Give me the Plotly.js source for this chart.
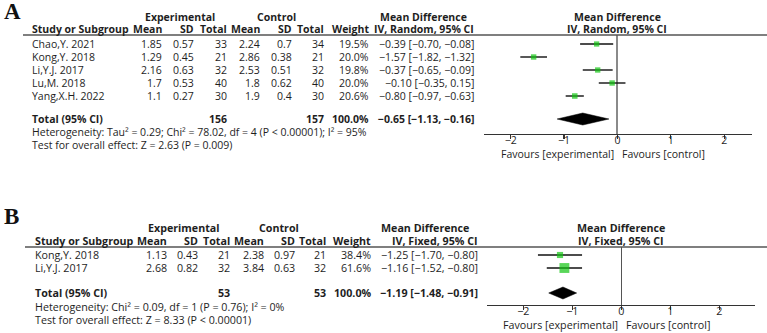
<!DOCTYPE html>
<html>
<head>
<meta charset="utf-8">
<script src="https://cdn.plot.ly/plotly-3.0.1.min.js"></script>
<style>html,body{margin:0;padding:0;background:#fff;}</style>
</head>
<body>
<div id="chart" style="width:767px;height:333px;"></div>
<script>
// ---- Panel A: IV, Random ----
const studiesA  = ['Chao,Y. 2021', 'Kong,Y. 2018', 'Li,Y.J. 2017', 'Lu,M. 2018', 'Yang,X.H. 2022'];
const expMeanA  = [1.85, 1.29, 2.16, 1.7, 1.1];
const expSdA    = [0.57, 0.45, 0.63, 0.53, 0.27];
const expNA     = [33, 21, 32, 40, 30];
const ctlMeanA  = [2.24, 2.86, 2.53, 1.8, 1.9];
const ctlSdA    = [0.7, 0.38, 0.51, 0.62, 0.4];
const ctlNA     = [34, 21, 32, 40, 30];
const weightA   = [19.5, 20.0, 19.8, 20.0, 20.6];
const totalWeightA = 100.0;
const mdA       = [-0.39, -1.57, -0.37, -0.10, -0.80];
const loA       = [-0.70, -1.82, -0.65, -0.35, -0.97];
const hiA       = [-0.08, -1.32, -0.09, 0.15, -0.63];
const pooledA   = [-0.65, -1.13, -0.16];   // estimate, lower, upper
const hetA      = 'Heterogeneity: Tau² = 0.29; Chi² = 78.02, df = 4 (P < 0.00001); I² = 95%';
const testA     = 'Test for overall effect: Z = 2.63 (P = 0.009)';

// ---- Panel B: IV, Fixed ----
const studiesB  = ['Kong,Y. 2018', 'Li,Y.J. 2017'];
const expMeanB  = [1.13, 2.68];
const expSdB    = [0.43, 0.82];
const expNB     = [21, 32];
const ctlMeanB  = [2.38, 3.84];
const ctlSdB    = [0.97, 0.63];
const ctlNB     = [21, 32];
const weightB   = [38.4, 61.6];
const totalWeightB = 100.0;
const mdB       = [-1.25, -1.16];
const loB       = [-1.70, -1.52];
const hiB       = [-0.80, -0.80];
const pooledB   = [-1.19, -1.48, -0.91];
const hetB      = 'Heterogeneity: Chi² = 0.09, df = 1 (P = 0.76); I² = 0%';
const testB     = 'Test for overall effect: Z = 8.33 (P < 0.00001)';

const tickVals  = [-2, -1, 0, 1, 2];
const tickText  = ['−2', '−1', '0', '1', '2'];

const W = 767, H = 333;
const FONT = '"Open Sans", "Noto Sans", sans-serif';
const TXT = '#1e1e1e';

const px = x => x / W;
const py = y => 1 - y / H;
const num = v => (v < 0 ? '−' : '') + Math.abs(v).toFixed(2);
const ci = (m, l, h) => num(m) + ' [' + num(l) + ', ' + num(h) + ']';
const sum = a => a.reduce((s, v) => s + v, 0);

const annotations = [];
const shapes = [];
const traces = [];

function panel(p) {
  const L = p.layout;
  const FS = L.fontSize;
  const font = bold => ({family: FONT, size: FS, color: TXT, weight: bold ? 'bold' : 'normal'});
  function label(text, x, y, anchor, bold) {
    annotations.push({
      text: text, xref: 'paper', yref: 'paper', x: px(x), y: py(y),
      xanchor: anchor, yanchor: 'middle', showarrow: false, borderpad: 0, font: font(bold)
    });
  }
  // panel letter
  annotations.push({
    text: '<b>' + p.letter + '</b>', xref: 'paper', yref: 'paper', x: px(L.letterX), y: py(L.letterY),
    xanchor: 'left', yanchor: 'middle', showarrow: false, borderpad: 0,
    font: {family: '"Liberation Serif", "DejaVu Serif", serif', size: 23, color: '#111'}
  });
  const c = L.cols;
  // group headers
  label('Experimental', c.expGroup, L.h1, 'center', true);
  label('Control', c.ctlGroup, L.h1, 'center', true);
  label('Mean Difference', c.mdHead, L.h1, 'center', true);
  label(p.method, c.md, L.h2, 'right', true);
  // column headers
  label('Study or Subgroup', c.study, L.h2, 'left', true);
  label('Mean', c.expMean, L.h2, 'right', true);
  label('SD', c.expSd, L.h2, 'right', true);
  label('Total', c.expN, L.h2, 'right', true);
  label('Mean', c.ctlMean, L.h2, 'right', true);
  label('SD', c.ctlSd, L.h2, 'right', true);
  label('Total', c.ctlN, L.h2, 'right', true);
  label('Weight', c.weight, L.h2, 'right', true);
  // header rule
  shapes.push({type: 'line', xref: 'paper', yref: 'paper', x0: px(L.ruleX0), x1: 1,
               y0: py(L.rule), y1: py(L.rule), line: {color: '#555', width: 1.3}});

  const rowY = p.studies.map((_, i) => L.row0 + i * L.rowStep);
  p.studies.forEach((s, i) => {
    const y = rowY[i];
    label(s, c.study, y, 'left');
    label(String(p.expMean[i]), c.expMean, y, 'right');
    label(String(p.expSd[i]), c.expSd, y, 'right');
    label(String(p.expN[i]), c.expN, y, 'right');
    label(String(p.ctlMean[i]), c.ctlMean, y, 'right');
    label(String(p.ctlSd[i]), c.ctlSd, y, 'right');
    label(String(p.ctlN[i]), c.ctlN, y, 'right');
    label(p.weight[i].toFixed(1) + '%', c.weight, y, 'right');
    label(ci(p.md[i], p.lo[i], p.hi[i]), c.md, y, 'right');
  });
  // totals row
  label('Total (95% CI)', c.study, L.total, 'left', true);
  label(String(sum(p.expN)), c.expN, L.total, 'right', true);
  label(String(sum(p.ctlN)), c.ctlN, L.total, 'right', true);
  label(p.totalWeight.toFixed(1) + '%', c.weight, L.total, 'right', true);
  label(ci(p.pooled[0], p.pooled[1], p.pooled[2]), c.md, L.total, 'right', true);
  label(p.het, c.study, L.het, 'left');
  label(p.test, c.study, L.test, 'left');

  // forest plot
  const xa = 'x' + p.axis, ya = 'y' + p.axis;
  traces.push({
    type: 'scatter', mode: 'markers', xaxis: xa, yaxis: ya,
    x: p.md, y: rowY, hoverinfo: 'skip',
    marker: {symbol: 'square', size: p.weight.map(w => w * L.sizeK), color: '#12c412', line: {width: 0}},
    error_x: {type: 'data', symmetric: false,
              array: p.md.map((m, i) => p.hi[i] - m),
              arrayminus: p.md.map((m, i) => m - p.lo[i]),
              color: '#111', thickness: 1.4, width: 0}
  });
  const [m, lo, hi] = p.pooled;
  const t = L.total, h = L.diamondHalf;
  traces.push({
    type: 'scatter', mode: 'lines', xaxis: xa, yaxis: ya, hoverinfo: 'skip',
    x: [lo, m, hi, m, lo], y: [t, t - h, t, t + h, t],
    fill: 'toself', fillcolor: '#000', line: {color: '#000', width: 0.5}
  });
  // plot headers centred on zero, favours labels
  const axLabel = (text, y, anchor, shift, bold) => annotations.push({
    text: text, xref: xa, yref: 'paper', x: 0, y: py(y), xanchor: anchor, yanchor: 'middle',
    xshift: shift, showarrow: false, borderpad: 0, font: font(bold)
  });
  axLabel('Mean Difference', L.h1, 'center', 0, true);
  axLabel(p.method, L.h2, 'center', 0, true);
  axLabel('Favours [experimental]', L.fav, 'right', -2, false);
  axLabel('Favours [control]', L.fav, 'left', 4, false);

  return {
    ['xaxis' + p.axis]: {
      domain: [px(L.axX0), px(L.axX1)], range: L.xRange, anchor: ya,
      showline: true, linecolor: '#333', linewidth: 1.2,
      ticks: 'outside', ticklen: 4, tickwidth: 1.2, tickcolor: '#333',
      ticklabelstandoff: L.tickStandoff,
      tickvals: tickVals, ticktext: tickText,
      tickfont: {family: FONT, size: FS, color: TXT},
      showgrid: false, zeroline: true, zerolinecolor: L.zeroColor, zerolinewidth: L.zeroWidth,
      fixedrange: true
    },
    ['yaxis' + p.axis]: {
      domain: [py(L.axisY), py(L.rule)], range: [L.axisY, L.rule], anchor: xa,
      visible: false, showgrid: false, zeroline: false, fixedrange: true
    }
  };
}

const axA = panel({
  letter: 'A', axis: '', method: 'IV, Random, 95% CI',
  studies: studiesA, expMean: expMeanA, expSd: expSdA, expN: expNA,
  ctlMean: ctlMeanA, ctlSd: ctlSdA, ctlN: ctlNA, weight: weightA, totalWeight: totalWeightA,
  md: mdA, lo: loA, hi: hiA, pooled: pooledA, het: hetA, test: testA,
  layout: {
    fontSize: 10.5,
    letterX: 3, letterY: 12, h1: 17, h2: 29, rule: 35, ruleX0: 23,
    row0: 44, rowStep: 13, total: 119, het: 132, test: 145, fav: 154,
    axisY: 134, axX0: 484, axX1: 752, xRange: [-2.5, 2.52], tickStandoff: -8,
    sizeK: 0.27, diamondHalf: 6, zeroColor: '#8a8a8a', zeroWidth: 2,
    cols: {study: 31, expMean: 163, expSd: 195, expN: 228, ctlMean: 261, ctlSd: 293,
           ctlN: 325, weight: 370, md: 475, expGroup: 180, ctlGroup: 276, mdHead: 423}
  }
});

const axB = panel({
  letter: 'B', axis: '2', method: 'IV, Fixed, 95% CI',
  studies: studiesB, expMean: expMeanB, expSd: expSdB, expN: expNB,
  ctlMean: ctlMeanB, ctlSd: ctlSdB, ctlN: ctlNB, weight: weightB, totalWeight: totalWeightB,
  md: mdB, lo: loB, hi: hiB, pooled: pooledB, het: hetB, test: testB,
  layout: {
    fontSize: 10.7,
    letterX: 3, letterY: 216, h1: 228, h2: 241, rule: 247, ruleX0: 25,
    row0: 255, rowStep: 13, total: 293, het: 307, test: 320, fav: 325,
    axisY: 305, axX0: 487, axX1: 755, xRange: [-2.74, 2.73], tickStandoff: -8,
    sizeK: 0.16, diamondHalf: 6, zeroColor: '#555', zeroWidth: 1.3,
    cols: {study: 34, expMean: 168, expSd: 199, expN: 231, ctlMean: 265, ctlSd: 296,
           ctlN: 327, weight: 372, md: 479, expGroup: 184, ctlGroup: 279, mdHead: 425}
  }
});

const layout = Object.assign({
  width: W, height: H, margin: {l: 0, r: 0, t: 0, b: 0},
  paper_bgcolor: '#fff', plot_bgcolor: 'rgba(0,0,0,0)',
  showlegend: false, font: {family: FONT, size: 10.5, color: TXT},
  annotations: annotations, shapes: shapes
}, axA, axB);

Plotly.newPlot('chart', traces, layout, {staticPlot: true, displayModeBar: false});
</script>
</body>
</html>
